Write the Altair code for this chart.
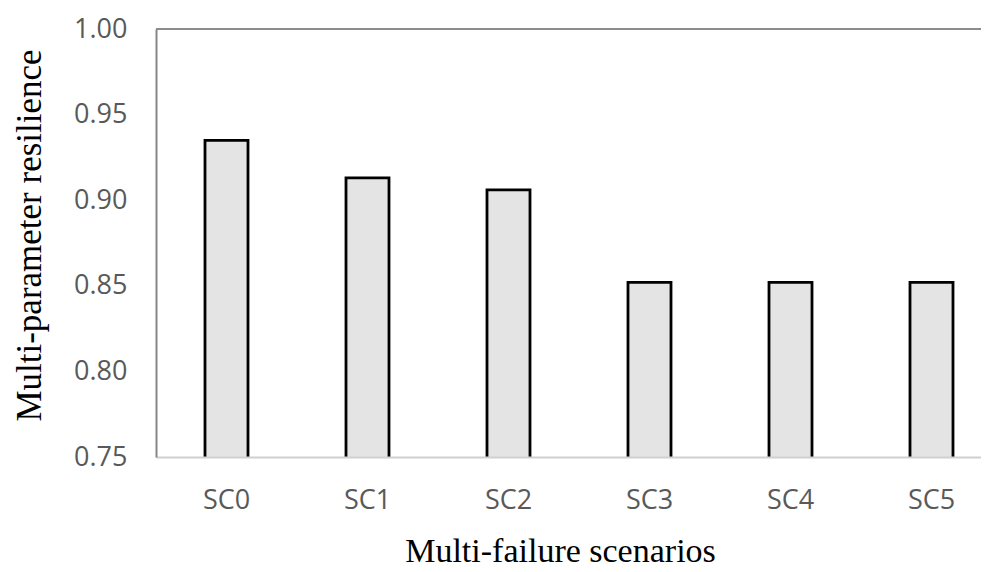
import altair as alt
import pandas as pd

scenarios = ["SC0", "SC1", "SC2", "SC3", "SC4", "SC5"]
resilience = [0.935, 0.913, 0.906, 0.852, 0.852, 0.852]
y_ticks = [0.75, 0.80, 0.85, 0.90, 0.95, 1.00]

df = pd.DataFrame({"scenario": scenarios, "value": resilience})

W = 825
H = 428

x_enc = alt.X(
    "scenario:N",
    sort=scenarios,
    scale=alt.Scale(range=[0, 846], paddingInner=0, paddingOuter=0),
    axis=alt.Axis(
        title="Multi-failure scenarios",
        labelAngle=0,
        ticks=False,
        tickSize=0,
        labelPadding=51,
        labelBaseline="alphabetic",
        labelFont="Open Sans",
        labelFontSize=27,
        labelColor="#595959",
        domainColor="#d0d0d0",
        domainWidth=2,
        titleFont="Liberation Serif",
        titleFontSize=34,
        titleFontWeight="normal",
        titleColor="black",
        titleBaseline="alphabetic",
        titleX=404,
        titleY=104,
        zindex=1,
    ),
)

y_enc = alt.Y(
    "value:Q",
    scale=alt.Scale(domain=[0.75, 1.0], zero=False, nice=False),
    axis=alt.Axis(
        title="Multi-parameter resilience",
        values=y_ticks,
        format=".2f",
        grid=False,
        ticks=False,
        tickSize=0,
        labelPadding=29,
        labelBaseline="middle",
        labelFont="Open Sans",
        labelFontSize=27,
        labelColor="#595959",
        domainColor="#868686",
        domainWidth=2,
        titleFont="Liberation Serif",
        titleFontSize=35,
        titleFontWeight="normal",
        titleColor="black",
        titleBaseline="alphabetic",
        titleX=-116,
        titleY=206,
        zindex=1,
    ),
)

bars = alt.Chart(df).mark_bar(
    size=43, fill="#e4e4e4", stroke="black", strokeWidth=2.8, clip=True
).encode(x=x_enc, y=y_enc, y2=alt.datum(0.74))

top_line = alt.Chart(df).mark_rule(color="#8c8c8c", strokeWidth=2).encode(
    y=alt.datum(1.0), x=alt.value(0), x2=alt.value(846)
)

chart = (
    alt.layer(bars, top_line)
    .properties(
        width=W,
        height=H,
        autosize="none",
        padding={"left": 148, "top": 21, "right": 0, "bottom": 110},
    )
    .configure_view(stroke=None)
)

chart.save("out.html", embed_options={"renderer": "svg", "actions": False})
